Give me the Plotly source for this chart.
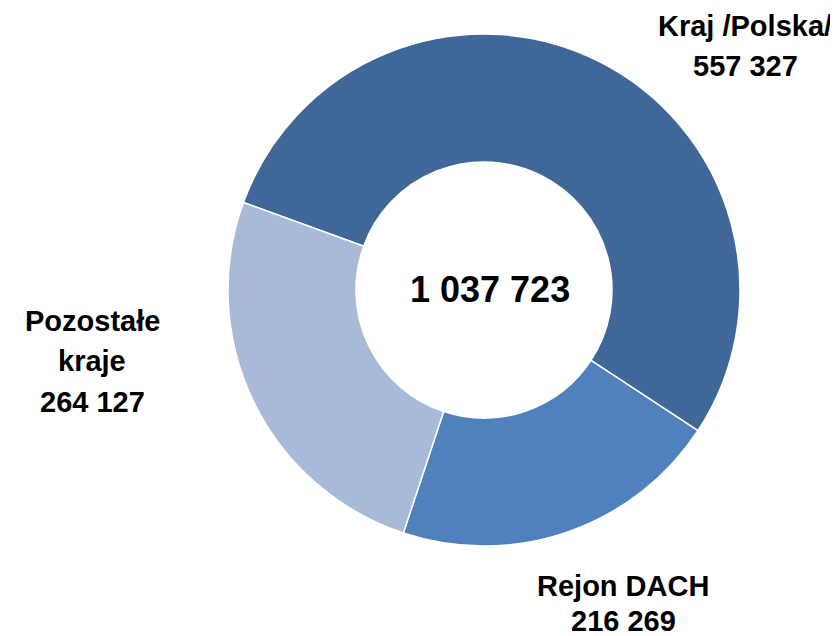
import plotly.graph_objects as go

categories = ["Kraj /Polska/", "Rejon DACH", "Pozostałe kraje"]
category_lines = [["Kraj /Polska/"], ["Rejon DACH"], ["Pozostałe", "kraje"]]
values = [557327, 216269, 264127]
value_labels = ["557 327", "216 269", "264 127"]
total_label = "1 037 723"
colors = ["#3F6899", "#4F81BD", "#A9BAD9"]

W, H = 838, 636
cx, cy, R = 476, 282, 256

fig = go.Figure(go.Pie(
    labels=categories,
    values=values,
    sort=False,
    direction="clockwise",
    rotation=290,
    hole=0.5,
    textinfo="none",
    marker=dict(colors=colors, line=dict(color="white", width=1.5)),
    domain=dict(x=[(cx - R) / W, (cx + R) / W], y=[(H - cy - R) / H, (H - cy + R) / H]),
    showlegend=False,
))

font = dict(family="Liberation Sans", size=29, color="black")
# x centre and y centres of each label's lines (pixels from top-left)
label_x = [737, 615, 84]
label_y = [[18, 58], [578, 613], [313, 353, 394]]
for lines, vl, x, ys in zip(category_lines, value_labels, label_x, label_y):
    for txt, y in zip(lines + [vl], ys):
        fig.add_annotation(x=x / W, y=1 - y / H, xref="paper", yref="paper",
                           text=f"<b>{txt}</b>", showarrow=False,
                           font=font, xanchor="center", yanchor="middle")

fig.add_annotation(x=482 / W, y=1 - 281 / H, xref="paper", yref="paper",
                   text=f"<b>{total_label}</b>", showarrow=False,
                   font=dict(family="Liberation Sans", size=36, color="black"),
                   xanchor="center", yanchor="middle")

fig.update_layout(width=W, height=H, margin=dict(l=0, r=0, t=0, b=0),
                  paper_bgcolor="white", plot_bgcolor="white")
fig.write_html("out.html")
